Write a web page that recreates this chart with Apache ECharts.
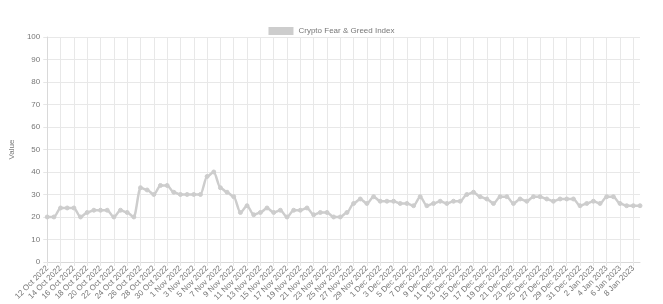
<!DOCTYPE html>
<html>
<head>
<meta charset="utf-8">
<script src="https://cdn.jsdelivr.net/npm/echarts@6/dist/echarts.min.js"></script>
<style>
html,body{margin:0;padding:0;background:#fff;}
#c{width:663px;height:304px;}
</style>
</head>
<body>
<div id="c"></div>
<script>
// Dates: 12 Oct 2022 .. 9 Jan 2023 (daily)
var categories = [
  "12 Oct 2022","13 Oct 2022","14 Oct 2022","15 Oct 2022","16 Oct 2022","17 Oct 2022","18 Oct 2022","19 Oct 2022","20 Oct 2022","21 Oct 2022",
  "22 Oct 2022","23 Oct 2022","24 Oct 2022","25 Oct 2022","26 Oct 2022","27 Oct 2022","28 Oct 2022","29 Oct 2022","30 Oct 2022","31 Oct 2022",
  "1 Nov 2022","2 Nov 2022","3 Nov 2022","4 Nov 2022","5 Nov 2022","6 Nov 2022","7 Nov 2022","8 Nov 2022","9 Nov 2022","10 Nov 2022",
  "11 Nov 2022","12 Nov 2022","13 Nov 2022","14 Nov 2022","15 Nov 2022","16 Nov 2022","17 Nov 2022","18 Nov 2022","19 Nov 2022","20 Nov 2022",
  "21 Nov 2022","22 Nov 2022","23 Nov 2022","24 Nov 2022","25 Nov 2022","26 Nov 2022","27 Nov 2022","28 Nov 2022","29 Nov 2022","30 Nov 2022",
  "1 Dec 2022","2 Dec 2022","3 Dec 2022","4 Dec 2022","5 Dec 2022","6 Dec 2022","7 Dec 2022","8 Dec 2022","9 Dec 2022","10 Dec 2022",
  "11 Dec 2022","12 Dec 2022","13 Dec 2022","14 Dec 2022","15 Dec 2022","16 Dec 2022","17 Dec 2022","18 Dec 2022","19 Dec 2022","20 Dec 2022",
  "21 Dec 2022","22 Dec 2022","23 Dec 2022","24 Dec 2022","25 Dec 2022","26 Dec 2022","27 Dec 2022","28 Dec 2022","29 Dec 2022","30 Dec 2022",
  "31 Dec 2022","1 Jan 2023","2 Jan 2023","3 Jan 2023","4 Jan 2023","5 Jan 2023","6 Jan 2023","7 Jan 2023","8 Jan 2023","9 Jan 2023"
];
var fearGreedValues = [
  20,20,24,24,24,20,22,23,23,23,20,23,22,20,
  33,32,30,34,34,31,30,30,
  30,30,38,40,33,31,29,
  22,25,21,22,24,22,23,20,23,23,24,21,22,22,20,20,22,
  26,28,26,29,27,27,27,26,26,25,29,25,26,27,26,27,27,30,31,29,28,26,29,
  29,26,28,27,29,29,28,27,28,28,28,25,26,27,26,29,29,26,25,25,25
];
var seriesName = "Crypto Fear & Greed Index";
var yAxisName = "Value";

var FONT = "Liberation Sans, Arial, Helvetica, sans-serif";
var chart = echarts.init(document.getElementById('c'), null, {renderer:'canvas'});
chart.setOption({
  animation: false,
  textStyle: {fontFamily: FONT},
  legend: {
    data: [seriesName],
    left: 'center',
    top: 22,
    icon: 'rect',
    itemWidth: 25,
    itemHeight: 8,
    itemGap: 5,
    textStyle: {color: '#777', fontSize: 8, fontFamily: FONT}
  },
  grid: {left: 45, right: 23, top: 37, bottom: 41, containLabel: false},
  xAxis: {
    type: 'category',
    data: categories,
    boundaryGap: false,
    axisLine: {show: true, lineStyle: {color: '#d9d9d9'}},
    axisTick: {show: true, interval: 1, length: 4, lineStyle: {color: '#e6e6e6'}},
    splitLine: {show: true, interval: 1, lineStyle: {color: '#e8e8e8', width: 1}},
    axisLabel: {interval: 1, rotate: 45, color: '#777', fontSize: 8, margin: 5, fontFamily: FONT}
  },
  yAxis: {
    type: 'value',
    min: 0, max: 100, interval: 10,
    name: yAxisName,
    nameLocation: 'middle',
    nameRotate: 90,
    nameGap: 27,
    nameTextStyle: {color: '#777', fontSize: 8, fontFamily: FONT},
    axisLine: {show: true, lineStyle: {color: '#d9d9d9'}},
    axisTick: {show: true, length: 4, lineStyle: {color: '#e6e6e6'}},
    splitLine: {show: true, lineStyle: {color: '#e8e8e8', width: 1}},
    axisLabel: {color: '#777', fontSize: 8, margin: 7, fontFamily: FONT}
  },
  series: [{
    name: seriesName,
    type: 'line',
    data: fearGreedValues,
    smooth: 0.3,
    smoothMonotone: 'x',
    symbol: 'circle',
    symbolSize: 4,
    showSymbol: true,
    lineStyle: {color: '#cdcdcd', width: 2.5},
    itemStyle: {color: '#cdcdcd', borderColor: '#cdcdcd'}
  }]
});
</script>
</body>
</html>
